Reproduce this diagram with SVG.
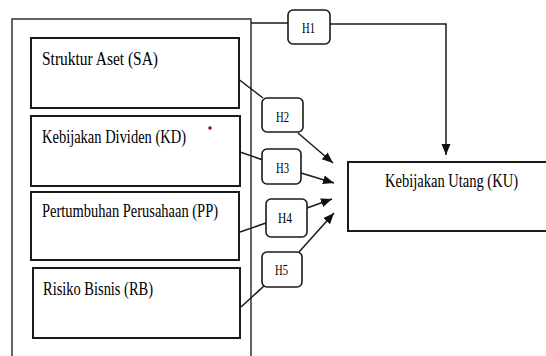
<svg xmlns="http://www.w3.org/2000/svg" width="546" height="356" viewBox="0 0 546 356">
<style>
.box{fill:#fff;stroke:#1a1a1a;stroke-width:2}
.hbox{fill:#fff;stroke:#1a1a1a;stroke-width:1.6}
.outer{fill:none;stroke:#333;stroke-width:1.5}
.lbl{font-family:"Liberation Serif","Times New Roman",serif;font-size:18px;fill:#000}
.h{font-family:"Liberation Serif","Times New Roman",serif;font-size:15px;fill:#000}
.ln{fill:none;stroke:#1a1a1a;stroke-width:1.5}
</style>
<defs>
<marker id="arr" markerUnits="userSpaceOnUse" markerWidth="12" markerHeight="10" refX="11" refY="4.5" orient="auto">
<path d="M0,0 L11,4.5 L0,9 z" fill="#111"/>
</marker>
</defs>
<rect width="546" height="356" fill="#fff"/>
<g id="outer">
<path class="outer" d="M12,357 V19 H251 V357"/>
</g>
<g id="connectors">
<path class="ln" d="M251,23 H288"/>
<path class="ln" d="M330,24 H446 V155" marker-end="url(#arr)"/>
<path class="ln" d="M237,78 L263,98"/>
<path class="ln" d="M298,133 L333,163" marker-end="url(#arr)"/>
<path class="ln" d="M240,152 L263,160"/>
<path class="ln" d="M301,173 L334,183" marker-end="url(#arr)"/>
<path class="ln" d="M240,232 L266,223"/>
<path class="ln" d="M307,208 L332,199" marker-end="url(#arr)"/>
<path class="ln" d="M241,307 L264,286"/>
<path class="ln" d="M299,252 L334,213" marker-end="url(#arr)"/>
</g>
<g id="SA">
<rect class="box" x="31" y="38" width="208" height="70"/>
<text class="lbl" x="42" y="65" textLength="116" lengthAdjust="spacingAndGlyphs">Struktur Aset (SA)</text>
</g>
<g id="KD">
<rect class="box" x="31" y="116" width="209" height="70"/>
<text class="lbl" x="42" y="143" textLength="144" lengthAdjust="spacingAndGlyphs">Kebijakan Dividen (KD)</text>
<circle cx="210" cy="128" r="1.8" fill="#a01010"/>
</g>
<g id="PP">
<rect class="box" x="31" y="192" width="208" height="68"/>
<text class="lbl" x="42" y="217" textLength="176" lengthAdjust="spacingAndGlyphs">Pertumbuhan Perusahaan (PP)</text>
</g>
<g id="RB">
<rect class="box" x="33" y="268" width="207" height="70"/>
<text class="lbl" x="43" y="295" textLength="110" lengthAdjust="spacingAndGlyphs">Risiko Bisnis (RB)</text>
</g>
<g id="KU">
<path class="box" d="M547,162 H348 V231 H547"/>
<text class="lbl" x="385" y="187" textLength="133" lengthAdjust="spacingAndGlyphs">Kebijakan Utang (KU)</text>
</g>
<g id="H1">
<rect class="hbox" x="288" y="10" width="42" height="34" rx="5"/>
<text class="h" x="302" y="33" textLength="13" lengthAdjust="spacingAndGlyphs">H1</text>
</g>
<g id="H2">
<rect class="hbox" x="262" y="98" width="41" height="34" rx="5"/>
<text class="h" x="276" y="121.5" textLength="13" lengthAdjust="spacingAndGlyphs">H2</text>
</g>
<g id="H3">
<rect class="hbox" x="262" y="149" width="39" height="35" rx="5"/>
<text class="h" x="276" y="173" textLength="13" lengthAdjust="spacingAndGlyphs">H3</text>
</g>
<g id="H4">
<rect class="hbox" x="266" y="199" width="41" height="38" rx="5"/>
<text class="h" x="278" y="222.5" textLength="14" lengthAdjust="spacingAndGlyphs">H4</text>
</g>
<g id="H5">
<rect class="hbox" x="262" y="252" width="40" height="35" rx="5"/>
<text class="h" x="275" y="275" textLength="13" lengthAdjust="spacingAndGlyphs">H5</text>
</g>
</svg>
